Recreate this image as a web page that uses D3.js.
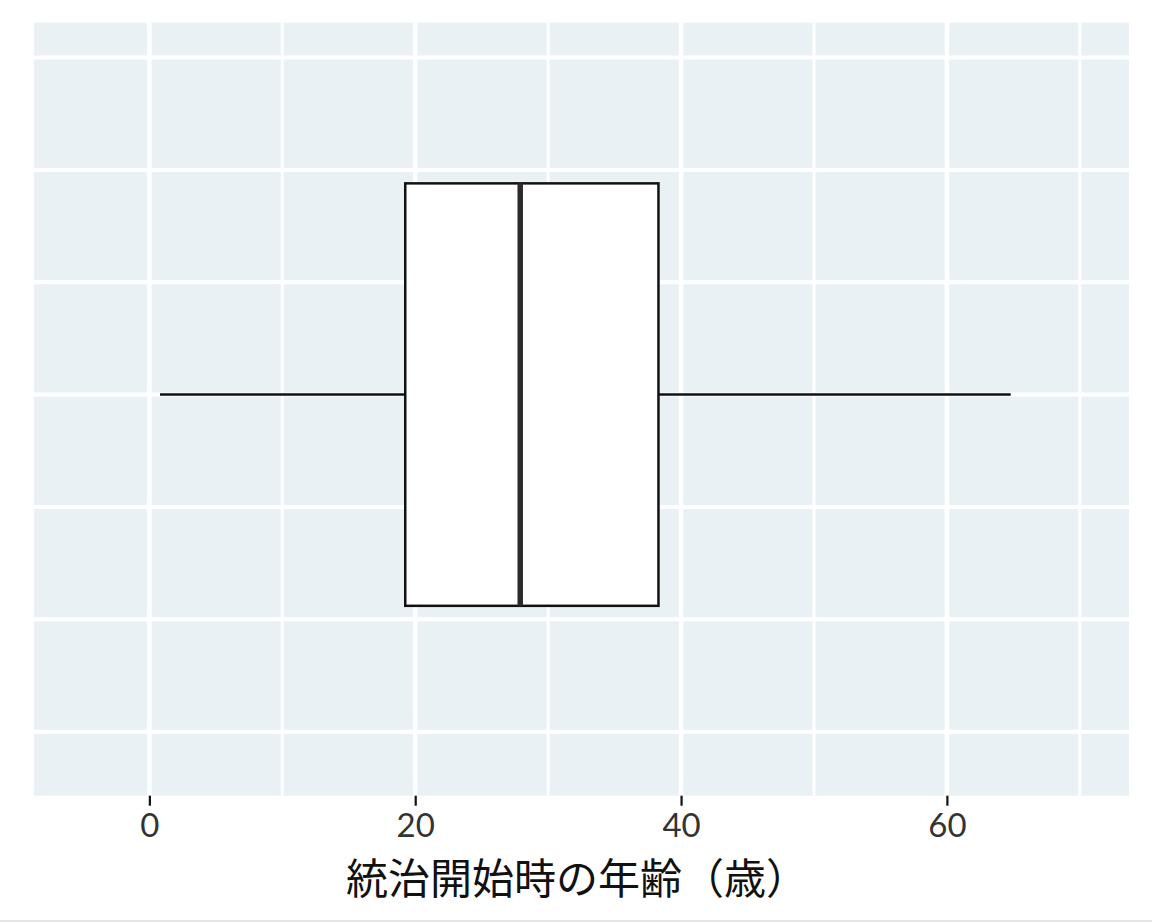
<!DOCTYPE html>
<html>
<head>
<meta charset="utf-8">
<script src="https://cdn.jsdelivr.net/npm/d3@7"></script>
<style>
  body { margin: 0; background: #fff; }
  svg { display: block; }
</style>
</head>
<body>
<svg id="chart" width="1152" height="922"></svg>
<script>
// boxplot stats (age at start of reign)
const boxStats = [{ min: 0.8, q1: 19.25, median: 27.9, q3: 38.3, max: 64.8 }];
const xMajorTicks = [0, 20, 40, 60];
const xMinorTicks = [10, 30, 50, 70];
const yGridLines = [0, 1, 2, 3, 4, 5, 6];
const boxCenter = 3;
const boxHalf = 1.88;
const xTitle = "統治開始時の年齢（歳）";

const svg = d3.select("#chart");
const panel = { left: 34, right: 1129, top: 22.7, bottom: 795.7 };

const x = d3.scaleLinear().domain([-8.68, 73.7]).range([panel.left, panel.right]);
const y = d3.scaleLinear().domain([-0.31, 6.57]).range([panel.top, panel.bottom]);

svg.append("rect")
    .attr("x", panel.left)
    .attr("y", panel.top)
    .attr("width", panel.right - panel.left)
    .attr("height", panel.bottom - panel.top)
    .attr("fill", "#e9f1f5");

const grid = svg.append("g");
grid.selectAll(".hgrid").data(yGridLines).join("line")
    .attr("x1", panel.left).attr("x2", panel.right)
    .attr("y1", d => y(d)).attr("y2", d => y(d))
    .attr("stroke", "#fff").attr("stroke-width", 4);
grid.selectAll(".vminor").data(xMinorTicks).join("line")
    .attr("x1", d => x(d)).attr("x2", d => x(d))
    .attr("y1", panel.top).attr("y2", panel.bottom)
    .attr("stroke", "#fff").attr("stroke-width", 3);
grid.selectAll(".vmajor").data(xMajorTicks).join("line")
    .attr("x1", d => x(d)).attr("x2", d => x(d))
    .attr("y1", panel.top).attr("y2", panel.bottom)
    .attr("stroke", "#fff").attr("stroke-width", 4.5);

// whiskers
const box = svg.append("g");
box.selectAll(".whisker-lo").data(boxStats).join("line")
    .attr("x1", d => x(d.min)).attr("x2", d => x(d.q1))
    .attr("y1", y(boxCenter)).attr("y2", y(boxCenter))
    .attr("stroke", "#111").attr("stroke-width", 2.5);
box.selectAll(".whisker-hi").data(boxStats).join("line")
    .attr("x1", d => x(d.q3)).attr("x2", d => x(d.max))
    .attr("y1", y(boxCenter)).attr("y2", y(boxCenter))
    .attr("stroke", "#111").attr("stroke-width", 2.5);
box.selectAll("rect").data(boxStats).join("rect")
    .attr("x", d => x(d.q1))
    .attr("y", y(boxCenter - boxHalf))
    .attr("width", d => x(d.q3) - x(d.q1))
    .attr("height", y(boxCenter + boxHalf) - y(boxCenter - boxHalf))
    .attr("fill", "#fff").attr("stroke", "#111").attr("stroke-width", 2.5);
box.selectAll(".median").data(boxStats).join("line")
    .attr("x1", d => x(d.median)).attr("x2", d => x(d.median))
    .attr("y1", y(boxCenter - boxHalf)).attr("y2", y(boxCenter + boxHalf))
    .attr("stroke", "#2b2b2b").attr("stroke-width", 5.5);

// x axis
const xAxis = svg.append("g")
    .attr("transform", `translate(0,${panel.bottom})`)
    .call(d3.axisBottom(x).tickValues(xMajorTicks).tickSize(10).tickPadding(8));
xAxis.select(".domain").remove();
xAxis.selectAll(".tick line").attr("stroke", "#111").attr("stroke-width", 2.2);
xAxis.selectAll(".tick text")
    .attr("fill", "#333")
    .style("font-family", "Lato, 'Noto Sans', sans-serif")
    .style("font-size", "33px");

svg.append("text")
    .attr("x", 577)
    .attr("y", 894)
    .attr("text-anchor", "middle")
    .attr("fill", "#111")
    .style("font-family", "'Noto Sans CJK JP', sans-serif")
    .style("font-size", "42px")
    .text(xTitle);

svg.append("line")
    .attr("x1", 0).attr("x2", 1152)
    .attr("y1", 921).attr("y2", 921)
    .attr("stroke", "#ddd").attr("stroke-width", 1.5);
</script>
</body>
</html>
